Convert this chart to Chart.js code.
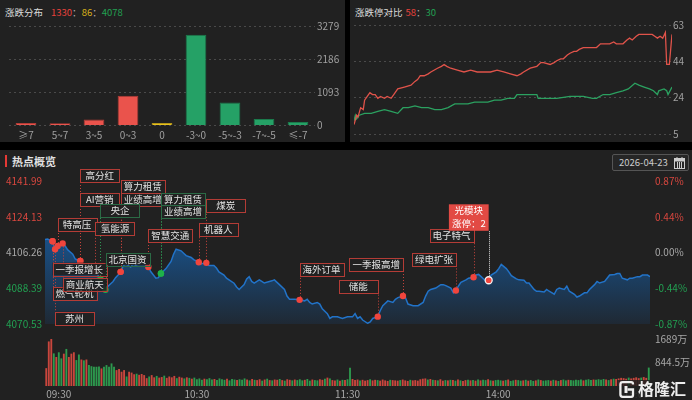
<!DOCTYPE html>
<html>
<head>
<meta charset="utf-8">
<script src="https://cdn.jsdelivr.net/npm/chart.js@4.4.1/dist/chart.umd.min.js"></script>
<style>
  body { margin:0; width:692px; height:400px; background:#000; overflow:hidden; position:relative;
         font-family:"Noto Sans CJK SC","Noto Sans",sans-serif; }
  .panel { position:absolute; background:#212121; }
  .title { position:absolute; font-size:9.5px; color:#dcdcdc; white-space:nowrap; line-height:12px; }
  canvas { position:absolute; }
  .red { color:#e8413c; } .yel { color:#d9b31a; } .grn { color:#22a052; } .sep { color:#aaa; }
</style>
</head>
<body>
<div class="panel" style="left:0;top:0;width:345px;height:142px"></div>
<div class="panel" style="left:350px;top:0;width:342px;height:142px"></div>
<div class="panel" style="left:0;top:150px;width:692px;height:250px"></div>

<div class="title" style="left:5px;top:6px">涨跌分布<span style="margin-left:8px" class="red" id="tUp"></span><span class="sep">：</span><span class="yel" id="tFlat"></span><span class="sep">：</span><span class="grn" id="tDown"></span></div>
<div class="title" style="left:355px;top:6px">涨跌停对比<span style="margin-left:3px" class="red" id="tLimUp"></span><span class="sep">：</span><span class="grn" id="tLimDown"></span></div>

<div style="position:absolute;left:5px;top:155px;width:2px;height:12px;background:#e53935"></div>
<div class="title" style="left:12px;top:155px;font-size:11px;font-weight:bold;color:#e0e0e0">热点概览</div>
<div style="position:absolute;left:612px;top:154px;width:75px;height:15px;border:1px solid #555;background:#262626;border-radius:2px">
  <span style="position:absolute;left:6px;top:1px;font-size:9.5px;color:#ccc;line-height:13px">2026-04-23</span>
  <svg style="position:absolute;left:61px;top:2px" width="11" height="12" viewBox="0 0 11 12">
    <rect x="0.5" y="1.5" width="10" height="10" fill="none" stroke="#ccc"/>
    <rect x="0.5" y="1.5" width="10" height="3" fill="#ccc"/>
    <line x1="3" y1="0" x2="3" y2="3" stroke="#ccc"/><line x1="8" y1="0" x2="8" y2="3" stroke="#ccc"/>
    <line x1="3.5" y1="5" x2="3.5" y2="11" stroke="#ccc"/><line x1="5.5" y1="5" x2="5.5" y2="11" stroke="#ccc"/><line x1="7.5" y1="5" x2="7.5" y2="11" stroke="#ccc"/>
  </svg>
</div>

<canvas id="cDist" width="345" height="124" style="left:0;top:18px"></canvas>
<canvas id="cRatio" width="342" height="124" style="left:350px;top:18px"></canvas>
<canvas id="cMain" width="692" height="185" style="left:0;top:150px"></canvas>
<canvas id="cVol" width="692" height="72" style="left:0;top:328px"></canvas>

<div style="position:absolute;left:617px;top:380px;width:75px;height:19px;background:rgba(33,33,33,0.85)">
  <svg style="position:absolute;left:2px;top:1px" width="17" height="17" viewBox="0 0 17 17">
    <path d="M14 3.5 V3 Q14 1.2 12.2 1.2 H3.6 Q1.4 1.2 1.4 3.4 V13.6 Q1.4 15.8 3.6 15.8 H12.2 Q14 15.8 14 14 V8.5 H8.5" fill="none" stroke="#eee" stroke-width="2.3"/>
    <rect x="5.5" y="5" width="3" height="7" fill="#eee"/>
  </svg>
  <span style="position:absolute;left:21px;top:-1px;font-size:16px;font-weight:bold;color:#eee;line-height:19px">格隆汇</span>
</div>

<script>
// ======================================================
// 1. DADOS
// ======================================================

// Up/down distribution (top left)
const distCats = ['≥7', '5~7', '3~5', '0~3', '0', '-3~0', '-5~-3', '-7~-5', '≤-7'];
const distVals = [80, 75, 195, 980, 86, 2990, 760, 215, 113];
const distTicks = [0, 1093, 2186, 3279];

// Limit up / limit down count (top right), minute from 09:30
const upMin = [0, 2, 3, 5, 7, 8, 10, 12, 14, 16, 18, 20, 23, 25, 28, 30, 33, 38, 43, 46, 48, 50, 53, 56, 58, 63, 66, 68, 70, 73, 78, 83, 88, 93, 98, 103, 108, 113, 118, 123, 126, 128, 133, 138, 141, 143, 148, 151, 153, 156, 158, 161, 163, 166, 168, 170, 173, 178, 183, 186, 188, 193, 196, 198, 203, 206, 208, 210, 213, 215, 220, 225, 227, 229, 231, 233, 235, 236, 238, 240];
const upCnt = [10, 15, 14, 19, 18, 23, 25, 27, 26, 26, 24, 25, 24, 25, 24, 26, 29, 30, 31, 33, 34, 36, 36, 37, 38, 40, 41, 42, 41, 40, 39, 38, 39, 38, 38, 38, 39, 38, 37, 36, 37, 38, 40, 41, 43, 43, 42, 43, 44, 45, 45, 47, 48, 49, 49, 50, 51, 51, 51, 53, 53, 53, 54, 53, 53, 55, 56, 55, 57, 58, 58, 58, 57, 56, 57, 56, 59, 42, 42, 58];
const downMin = [0, 1, 2, 4, 8, 13, 18, 23, 28, 33, 37, 41, 46, 51, 56, 61, 66, 71, 76, 81, 86, 91, 96, 101, 106, 111, 116, 121, 123, 128, 133, 138, 139, 143, 153, 163, 173, 180, 183, 188, 193, 198, 203, 207, 212, 215, 219, 223, 226, 229, 230, 234, 236, 237, 240];
const downCnt = [12, 15, 13, 15, 16, 16, 17, 18, 17, 16, 19, 19, 20, 19, 19, 18, 18, 19, 21, 21, 21, 22, 22, 22, 23, 23, 24, 24, 26, 26, 26, 26, 24, 24, 24, 25, 25, 24, 24, 26, 26, 27, 28, 29, 32, 31, 30, 29, 28, 26, 28, 29, 28, 26, 30];
const ratioTicks = [5, 24.33, 43.67, 63];

// Index intraday (bottom)
const preClose = 4106.26;
const priceTicks = [4070.53, 4088.39, 4106.26, 4124.13, 4141.99];
const pMin = [0, 1, 3, 4, 5, 7, 8, 9, 11, 12, 13, 14, 15, 16, 17, 19, 20, 21, 22, 24, 25, 27, 28, 29, 30, 31, 32, 34, 35, 36, 38, 39, 40, 41, 42, 44, 45, 46, 48, 50, 51, 52, 54, 55, 56, 58, 59, 61, 62, 64, 65, 67, 68, 69, 71, 72, 73, 75, 76, 77, 79, 80, 81, 82, 83, 85, 86, 87, 89, 90, 91, 93, 95, 96, 97, 99, 101, 103, 104, 105, 106, 108, 109, 110, 112, 113, 114, 116, 118, 120, 122, 123, 124, 125, 126, 128, 129, 130, 132, 133, 134, 136, 138, 139, 140, 142, 143, 144, 146, 148, 150, 151, 152, 153, 155, 157, 158, 159, 161, 162, 163, 164, 165, 167, 168, 170, 171, 172, 173, 175, 176, 177, 179, 180, 181, 183, 184, 185, 187, 188, 190, 191, 192, 194, 195, 196, 198, 199, 200, 202, 203, 204, 206, 207, 208, 210, 211, 212, 214, 215, 216, 218, 219, 220, 222, 223, 224, 226, 227, 228, 229, 231, 232, 233, 235, 236, 237, 239, 240];
const pVal = [4112.7, 4113.0, 4111.9, 4107.9, 4109.5, 4110.8, 4109.5, 4107.6, 4105.4, 4103.0, 4102.4, 4102.0, 4100.6, 4099.0, 4097.4, 4096.6, 4096.6, 4095.0, 4093.0, 4087.6, 4089.4, 4091.8, 4093.7, 4095.0, 4096.6, 4099.5, 4100.6, 4099.0, 4100.6, 4099.8, 4101.1, 4100.6, 4100.1, 4099.0, 4096.6, 4093.4, 4093.7, 4095.8, 4098.2, 4101.8, 4105.4, 4107.9, 4107.1, 4105.9, 4104.7, 4103.8, 4102.7, 4101.4, 4100.6, 4101.1, 4099.8, 4099.8, 4098.5, 4096.6, 4095.0, 4093.4, 4092.6, 4090.9, 4089.0, 4087.8, 4090.2, 4093.0, 4094.2, 4091.8, 4091.0, 4092.6, 4091.8, 4091.0, 4091.8, 4092.1, 4092.6, 4090.2, 4087.8, 4084.5, 4082.9, 4082.9, 4082.6, 4082.1, 4082.9, 4081.3, 4080.5, 4081.3, 4080.5, 4078.1, 4075.7, 4073.3, 4074.1, 4074.1, 4073.3, 4074.1, 4074.1, 4075.7, 4073.3, 4074.1, 4072.5, 4070.9, 4071.6, 4073.3, 4074.2, 4077.3, 4079.7, 4082.1, 4081.3, 4082.9, 4083.7, 4084.5, 4083.7, 4080.5, 4079.7, 4079.7, 4081.3, 4084.5, 4086.9, 4087.8, 4088.5, 4090.2, 4090.2, 4089.7, 4088.5, 4086.1, 4087.3, 4089.4, 4091.4, 4092.6, 4093.4, 4093.9, 4095.0, 4095.3, 4094.2, 4091.8, 4092.4, 4095.0, 4096.6, 4098.2, 4100.3, 4098.2, 4096.6, 4094.7, 4093.1, 4092.6, 4092.4, 4091.0, 4091.0, 4087.8, 4086.9, 4086.9, 4086.5, 4087.8, 4086.9, 4085.4, 4087.8, 4088.5, 4087.8, 4089.4, 4086.9, 4085.4, 4084.0, 4084.5, 4086.1, 4086.1, 4087.8, 4090.2, 4091.8, 4091.0, 4091.8, 4093.4, 4095.0, 4095.3, 4095.8, 4095.8, 4093.4, 4092.6, 4093.4, 4093.4, 4094.2, 4094.2, 4095.0, 4095.0, 4094.2];

// Hot topics on the line
const hotNames = ['燃气轮机', '一季报增长', '苏州', '特高压', '商业航天', '高分红', '业绩高增', 'AI营销', '氢能源', '央企', '北京国资', '算力租赁', '智慧交通', '算力租赁', '业绩高增', '机器人', '煤炭', '海外订单', '储能', '一季报高增', '绿电扩张', '电子特气', '光模块'];
const hotMins = [3, 3, 4, 5, 7, 14, 30, 14, 20, 22, 24, 30, 41, 46, 46, 61, 64, 101, 132, 142, 163, 170, 176];
const hotSide = 'rrrrrrrrrggrrggrrrrrrrr';
const limitUpHot = 2;

// Volume (万), per minute, and its up/down side
const volVals = [
  630, 1590, 1680, 1160, 1030, 1200, 980, 1150, 1320, 1030,
  1150, 1200, 920, 1120, 940, 910, 940, 740, 700, 680,
  680, 690, 620, 680, 740, 680, 800, 680, 560, 600,
  500, 560, 330, 500, 470, 410, 430, 390, 420, 380,
  270, 330, 380, 300, 350, 290, 310, 360, 280, 330,
  300, 350, 270, 320, 290, 260, 300, 280, 250, 290,
  230, 260, 210, 250, 230, 270, 220, 240, 200, 260,
  230, 210, 250, 190, 240, 220, 200, 230, 210, 260,
  220, 190, 240, 210, 200, 230, 180, 220, 250, 200,
  190, 220, 210, 240, 200, 180, 230, 210, 190, 220,
  200, 230, 190, 210, 240, 180, 220, 200, 190, 230,
  210, 250, 290, 260, 200, 190, 220, 180, 210, 200,
  230,
  645, 240, 200, 220, 190, 210, 180, 200, 230,
  190, 210, 200, 180, 220, 190, 170, 210, 200, 190,
  180, 200, 220, 190, 170, 210, 190, 200, 180, 230,
  250, 260, 220, 240, 210, 200, 190, 230, 180, 200,
  190, 210, 200, 180, 220, 190, 170, 200, 210, 190,
  200, 180, 220, 190, 210, 200, 230, 190, 180, 200,
  210, 190, 180, 200, 220, 170, 190, 210, 200, 180,
  190, 210, 180, 200, 170, 190, 220, 200, 180, 190,
  200, 180, 210, 190, 170, 200, 220, 190, 210, 200,
  190, 210, 200, 220, 190, 210, 230, 200, 220, 210,
  230, 210, 240, 220, 200, 230, 250, 240, 260, 280,
  270, 250, 290, 260, 280, 300, 270, 290, 310, 280,
  650
];
const volSide =
  'rrrgrggrgr' + 'rrggrgrggg' + 'ggrgggggrr' + 'rrgrrrgrrr' + 'rgrrgrrgrr' +
  'rrgrrgrgrg' + 'gggrgggrgg' + 'ggrgggrggg' + 'rgrgrrgrgr' + 'grrgrgrrgr' +
  'gggrggrggr' + 'rgrgrrgrgr' + 'g' + 'grrrgrrrg' +
  'rrgrrrrgrr' + 'rgrrrgrrrr' + 'rrgrgrgrrg' + 'rgrgrgrrgr' + 'grgrggrgrg' +
  'ggrgrggrgg' + 'rgrggrgrgg' + 'grgrgrggrg' + 'ggggrgggrg' + 'gggrgrgrrr' +
  'rrgrrrrgrr' + 'g';
const volTicks = [844.5, 1689];
const timeTickMin = [0, 60, 120, 180, 240];
const timeTickLbl = ['09:30', '10:30', '11:30', '14:00', '15:00'];

// layout of the topic boxes: page y of the box top, and which side of the dot it hangs from
const hotBoxTop = [287.3, 262.7, 311.7, 218.3, 278.3, 169, 193.3, 193.3, 222.3, 204.3, 252.7, 180, 229.3, 193.3, 205, 223.3, 199, 263.3, 280, 258.3, 253.3, 229.3, 204.3];
const hotAnchor = 'llllllllllllllllllrrrrr';
const MAIN_TOP = 150;

// ======================================================
// 2. CORES E PADRÕES
// ======================================================
const GRN = '#22a052', GRAY = '#a8a8a8';
Chart.defaults.font.family = '"Noto Sans CJK SC","Noto Sans",sans-serif';
Chart.defaults.font.size = 10;
Chart.defaults.color = GRAY;
Chart.defaults.animation = false;
Chart.defaults.responsive = false;
Chart.defaults.plugins.legend.display = false;
Chart.defaults.plugins.tooltip.enabled = false;

const up = distVals.slice(0, 4).reduce((a, b) => a + b, 0);
const down = distVals.slice(5).reduce((a, b) => a + b, 0);
document.getElementById('tUp').innerText = up;
document.getElementById('tFlat').innerText = distVals[4];
document.getElementById('tDown').innerText = down;
document.getElementById('tLimUp').innerText = upCnt[upCnt.length - 1];
document.getElementById('tLimDown').innerText = downCnt[downCnt.length - 1];

// ======================================================
// 3. DISTRIBUIÇÃO (BARRAS)
// ======================================================
new Chart(document.getElementById('cDist'), {
  type: 'bar',
  data: {
    labels: distCats,
    datasets: [{
      data: distVals,
      backgroundColor: distCats.map((c, i) => i < 4 ? '#ea534c' : i === 4 ? '#e8c21c' : '#25a166'),
      borderColor: distCats.map((c, i) => i < 4 ? '#b23c36' : i === 4 ? '#b3951a' : '#1b7a4c'),
      borderWidth: 1,
      barPercentage: 0.61,
      categoryPercentage: 1
    }]
  },
  options: {
    layout: { padding: { left: 9, top: 7 } },
    scales: {
      x: {
        grid: { display: false, drawTicks: false }, border: { display: false },
        ticks: { padding: 4, color: '#a0a0a0' },
        afterFit(s) { s.height = 16.5; }
      },
      y: {
        position: 'right', min: 0, max: distTicks[distTicks.length - 1],
        afterBuildTicks(s) { s.ticks = distTicks.map(v => ({ value: v })); },
        grid: { color: '#4a4a4a', drawTicks: false },
        border: { display: false, dash: [2, 3] },
        ticks: { autoSkip: false, padding: 2, color: '#a0a0a0', callback: v => String(v) },
        afterFit(s) { s.width = 30; }
      }
    }
  }
});

// ======================================================
// 4. ZHANGTING / DIETING (LINHAS)
// ======================================================
new Chart(document.getElementById('cRatio'), {
  type: 'line',
  data: {
    datasets: [
      { data: upMin.map((m, i) => ({ x: m, y: upCnt[i] })), borderColor: '#e0534a', borderWidth: 1.3, pointRadius: 0 },
      { data: downMin.map((m, i) => ({ x: m, y: downCnt[i] })), borderColor: '#2ba160', borderWidth: 1.3, pointRadius: 0 }
    ]
  },
  options: {
    layout: { padding: { left: 4, top: 6, bottom: 8 } },
    scales: {
      x: { type: 'linear', min: 0, max: 240, display: false },
      y: {
        position: 'right', min: ratioTicks[0], max: ratioTicks[ratioTicks.length - 1],
        afterBuildTicks(s) { s.ticks = ratioTicks.map(v => ({ value: v })); },
        grid: { color: '#4a4a4a', drawTicks: false },
        border: { display: false, dash: [2, 3] },
        ticks: { autoSkip: false, padding: 1, color: '#a0a0a0', callback: v => String(Math.round(v)) },
        afterFit(s) { s.width = 20; }
      }
    }
  }
});

// ======================================================
// 5. HOT TOPICS (plugin)
// ======================================================
const pct = p => (p / preClose - 1) * 100;
const sideColor = v => v > preClose ? '#d9473f' : v < preClose ? GRN : GRAY;

const hotPlugin = {
  id: 'hot',
  afterDatasetsDraw(chart) {
    const { ctx, scales: { x, y } } = chart;
    ctx.save();
    ctx.font = '9.5px "Noto Sans CJK SC"';
    const items = hotNames.map((name, i) => {
      const k = pMin.indexOf(hotMins[i]);
      const px = x.getPixelForValue(hotMins[i]);
      const py = y.getPixelForValue(pVal[k]);
      const special = i === hotNames.length - 1;
      const lines = special ? [name, '涨停：' + limitUpHot] : [name];
      const w = Math.max(...lines.map(t => ctx.measureText(t).width)) + 6;
      const bw = Math.max(w, 39);
      const bh = special ? 26.5 : 12.5;
      const bt = hotBoxTop[i] - MAIN_TOP;
      const bl = hotAnchor[i] === 'r' ? px - bw : px;
      return { px, py, bw, bh, bt, bl, lines, special, g: hotSide[i] === 'g' };
    });

    // leaders
    items.forEach(it => {
      const lx = Math.round(it.px) + 0.5;
      const end = it.bt + it.bh < it.py ? it.bt + it.bh : it.bt;
      ctx.beginPath();
      ctx.setLineDash(it.special ? [1, 1] : [1, 2]);
      ctx.strokeStyle = it.special ? '#dddddd' : it.g ? '#2f9a55' : '#c8443c';
      ctx.lineWidth = 1;
      ctx.moveTo(lx, it.py);
      ctx.lineTo(lx, end);
      ctx.stroke();
    });
    ctx.setLineDash([]);

    // dots
    items.forEach(it => {
      ctx.beginPath();
      ctx.arc(it.px, it.py, it.special ? 3.5 : 3.2, 0, Math.PI * 2);
      ctx.fillStyle = it.g ? '#1fb24a' : '#f0453d';
      ctx.fill();
      if (it.special) { ctx.strokeStyle = '#f4f4f4'; ctx.lineWidth = 1.3; ctx.stroke(); }
    });

    // boxes
    ctx.textAlign = 'center';
    ctx.textBaseline = 'middle';
    items.forEach(it => {
      ctx.fillStyle = it.special ? '#e24a44' : 'rgba(34,34,34,0.92)';
      ctx.fillRect(it.bl, it.bt, it.bw, it.bh);
      if (!it.special) {
        ctx.strokeStyle = it.g ? '#2b6a45' : '#b33c36';
        ctx.lineWidth = 1;
        ctx.strokeRect(Math.round(it.bl) + 0.5, Math.round(it.bt) + 0.5, Math.round(it.bw), Math.round(it.bh));
      }
      ctx.fillStyle = it.special ? '#ffffff' : '#e2e2e2';
      it.lines.forEach((t, j) => ctx.fillText(t, it.bl + it.bw / 2, it.bt + 6.5 + j * 13));
    });
    ctx.restore();
  }
};

// ======================================================
// 6. GRÁFICO PRINCIPAL
// ======================================================
new Chart(document.getElementById('cMain'), {
  type: 'line',
  data: {
    datasets: [{
      data: pMin.map((m, i) => ({ x: m, y: pVal[i] })),
      borderColor: '#2273c8',
      borderWidth: 1.5,
      pointRadius: 0,
      fill: 'start',
      backgroundColor(c) {
        const a = c.chart.chartArea;
        if (!a) return 'transparent';
        const g = c.chart.ctx.createLinearGradient(0, a.top, 0, a.bottom);
        g.addColorStop(0, '#1762b4');
        g.addColorStop(0.5, '#1a4a7a');
        g.addColorStop(1, '#1f2934');
        return g;
      }
    }]
  },
  options: {
    layout: { padding: { left: 6, top: 31, bottom: 7 } },
    scales: {
      x: { type: 'linear', min: 0, max: 240, display: false },
      y: {
        position: 'left', min: priceTicks[0], max: priceTicks[priceTicks.length - 1],
        afterBuildTicks(s) { s.ticks = priceTicks.map(v => ({ value: v })); },
        grid: { display: false, drawTicks: false }, border: { display: false },
        ticks: { autoSkip: false, crossAlign: 'far', padding: 0, color: c => sideColor(c.tick.value), callback: v => v.toFixed(2) },
        afterFit(s) { s.width = 39; }
      },
      y2: {
        position: 'right', min: pct(priceTicks[0]), max: pct(priceTicks[priceTicks.length - 1]),
        afterBuildTicks(s) { s.ticks = priceTicks.map(p => ({ value: pct(p) })); },
        grid: { display: false, drawTicks: false }, border: { display: false },
        ticks: {
          autoSkip: false, padding: 5,
          color: c => c.tick.value > 0.001 ? '#d9473f' : c.tick.value < -0.001 ? GRN : GRAY,
          callback: v => (Math.abs(v) < 0.001 ? 0 : v).toFixed(2) + '%'
        },
        afterFit(s) { s.width = 42; }
      }
    }
  },
  plugins: [hotPlugin]
});

// ======================================================
// 7. VOLUME
// ======================================================
new Chart(document.getElementById('cVol'), {
  type: 'bar',
  data: {
    labels: volVals.map((v, i) => i),
    datasets: [{
      data: volVals,
      backgroundColor: volSide.split('').map(s => s === 'r' ? '#c9463d' : '#2d9a4e'),
      barThickness: 1.2
    }]
  },
  options: {
    layout: { padding: { left: 45, top: 10 } },
    scales: {
      x: {
        grid: { display: false, drawTicks: false }, border: { display: false },
        ticks: {
          autoSkip: false, maxRotation: 0, align: 'inner', padding: 2, color: '#a8a8a8',
          callback: (v, i) => { const k = timeTickMin.indexOf(i); return k < 0 ? '' : timeTickLbl[k]; }
        },
        afterFit(s) { s.height = 14; }
      },
      y: {
        position: 'right', min: 0, max: volTicks[volTicks.length - 1],
        afterBuildTicks(s) { s.ticks = volTicks.map(v => ({ value: v })); },
        grid: { display: false, drawTicks: false }, border: { display: false },
        ticks: { autoSkip: false, padding: 5, color: '#a8a8a8', callback: v => v + '万' },
        afterFit(s) { s.width = 42; }
      }
    }
  }
});
</script>
</body>
</html>
